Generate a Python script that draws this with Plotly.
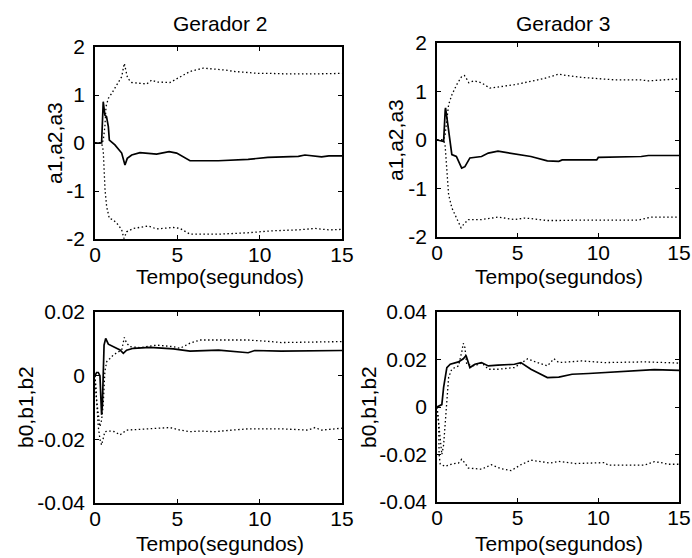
import plotly.graph_objects as go

# ---------------- data ----------------
# Gerador 2, a1,a2,a3
g2a_solid_t = [0, 0.4, 0.5, 0.6, 0.7, 0.81, 0.87, 1.21, 1.62, 1.82, 1.96, 2.23, 2.73, 3.74, 4.5, 4.96, 5.77, 7.49, 9.3, 10.5, 12.35, 12.75, 13.76, 14.2, 15]
g2a_solid_y = [0, 0, 0.86, 0.58, 0.55, 0.34, 0.06, -0.04, -0.21, -0.46, -0.32, -0.25, -0.2, -0.23, -0.18, -0.21, -0.37, -0.37, -0.34, -0.3, -0.28, -0.25, -0.29, -0.27, -0.27]
g2a_up_t = [0, 0.4, 0.5, 0.6, 0.67, 0.81, 1.01, 1.32, 1.62, 1.78, 1.98, 2.23, 3.14, 3.44, 3.74, 4.55, 5.16, 5.77, 6.58, 7.49, 7.89, 8.5, 9.92, 10.7, 11.55, 13.4, 15]
g2a_up_y = [0, 0, 0.05, 0.34, 0.76, 0.93, 1.03, 1.21, 1.38, 1.66, 1.35, 1.26, 1.23, 1.31, 1.27, 1.26, 1.38, 1.49, 1.56, 1.54, 1.52, 1.49, 1.45, 1.45, 1.44, 1.44, 1.45]
g2a_lo_t = [0, 0.4, 0.5, 0.55, 0.61, 0.71, 0.87, 1.11, 1.42, 1.62, 1.76, 1.92, 2.33, 3.24, 3.74, 4.76, 5.16, 5.77, 7.49, 9.3, 10.7, 12.35, 13.36, 14.2, 15]
g2a_lo_y = [0, 0, -0.15, -0.63, -0.98, -1.33, -1.57, -1.6, -1.71, -1.81, -1.99, -1.85, -1.78, -1.73, -1.79, -1.76, -1.78, -1.9, -1.9, -1.87, -1.83, -1.81, -1.78, -1.81, -1.8]

# Gerador 3, a1,a2,a3
g3a_solid_t = [0, 0.41, 0.51, 0.53, 0.67, 0.82, 0.92, 1.2, 1.53, 1.73, 2.04, 2.76, 3.18, 3.78, 5.0, 5.82, 6.84, 7.55, 7.76, 9.9, 10.0, 12.66, 13.1, 15]
g3a_solid_y = [0, -0.03, 0.62, 0.66, 0.32, -0.1, -0.3, -0.34, -0.58, -0.55, -0.37, -0.34, -0.27, -0.23, -0.29, -0.34, -0.43, -0.44, -0.41, -0.41, -0.36, -0.34, -0.32, -0.32]
g3a_up_t = [0, 0.41, 0.5, 0.72, 0.92, 1.22, 1.53, 1.7, 1.82, 1.97, 2.3, 2.76, 3.27, 3.78, 4.8, 5.82, 6.67, 7.55, 8.0, 9.0, 11.0, 12.6, 13.1, 15]
g3a_up_y = [0, 0, 0.1, 0.73, 0.93, 1.14, 1.31, 1.33, 1.27, 1.18, 1.22, 1.18, 1.07, 1.09, 1.14, 1.21, 1.27, 1.36, 1.33, 1.29, 1.24, 1.24, 1.22, 1.26]
g3a_lo_t = [0, 0.41, 0.5, 0.61, 0.72, 0.92, 1.22, 1.49, 1.6, 1.94, 2.76, 3.78, 4.8, 5.4, 5.8, 6.84, 7.55, 9.0, 12.5, 13.27, 15]
g3a_lo_y = [0, 0, -0.1, -0.65, -1.13, -1.4, -1.61, -1.81, -1.76, -1.64, -1.64, -1.59, -1.64, -1.61, -1.62, -1.66, -1.66, -1.65, -1.65, -1.59, -1.59]

# Gerador 2, b0,b1,b2
g2b_solid_t = [0, 0.1, 0.2, 0.3, 0.4, 0.45, 0.55, 0.65, 0.81, 1.11, 1.52, 1.72, 1.92, 2.33, 3.34, 4.76, 5.77, 7.5, 8.3, 9.3, 9.7, 11.3, 15]
g2b_solid_y = [0, 0.001, 0.001, 0, -0.0123, -0.009, 0.0096, 0.0117, 0.0099, 0.0091, 0.0081, 0.007, 0.008, 0.0086, 0.0089, 0.0084, 0.0077, 0.008, 0.0076, 0.0072, 0.0079, 0.0077, 0.0079]
g2b_up_t = [0, 0.1, 0.2, 0.3, 0.4, 0.5, 0.6, 0.71, 0.91, 1.11, 1.42, 1.62, 1.78, 1.92, 2.13, 2.73, 3.74, 4.76, 5.16, 5.77, 6.38, 7.5, 9.3, 10.7, 11.3, 15]
g2b_up_y = [0, -0.008, -0.012, -0.016, -0.014, -0.009, 0.0013, 0.0044, 0.0054, 0.0065, 0.0075, 0.008, 0.012, 0.0102, 0.0091, 0.0088, 0.0096, 0.0091, 0.0086, 0.0102, 0.0112, 0.0112, 0.0112, 0.0107, 0.0104, 0.0107]
g2b_lo_t = [0, 0.1, 0.2, 0.3, 0.4, 0.6, 0.91, 1.2, 1.52, 1.92, 2.73, 3.74, 4.55, 5.16, 5.77, 6.38, 7.29, 8.3, 9.3, 11.3, 12.95, 13.36, 13.76, 15]
g2b_lo_y = [0, -0.01, -0.016, -0.02, -0.0218, -0.0176, -0.0174, -0.0176, -0.0186, -0.0171, -0.0168, -0.0165, -0.0163, -0.0171, -0.0176, -0.0174, -0.0176, -0.0171, -0.0167, -0.0167, -0.0171, -0.0163, -0.0171, -0.0165]

# Gerador 3, b0,b1,b2
g3b_solid_t = [0, 0.2, 0.3, 0.41, 0.51, 0.61, 0.82, 1.12, 1.33, 1.63, 1.8, 2.04, 2.35, 2.76, 3.18, 3.78, 4.8, 5.2, 5.82, 6.22, 6.84, 7.55, 8.37, 9.4, 10.4, 11.4, 12.45, 13.47, 15]
g3b_solid_y = [0, 0.0005, 0.001, 0.0083, 0.0118, 0.0166, 0.018, 0.0187, 0.019, 0.0203, 0.0217, 0.0166, 0.018, 0.0187, 0.0173, 0.0176, 0.018, 0.0187, 0.0159, 0.0145, 0.0124, 0.0126, 0.0138, 0.0141, 0.0145, 0.015, 0.0154, 0.0157, 0.0154]
g3b_up_t = [0, 0.15, 0.3, 0.41, 0.51, 0.61, 0.72, 0.92, 1.33, 1.53, 1.63, 1.73, 1.84, 2.35, 2.76, 3.18, 3.78, 4.8, 5.62, 6.22, 6.84, 7.25, 7.55, 8.98, 10.4, 12.9, 15]
g3b_up_y = [0, -0.01, -0.02, -0.016, -0.006, 0.0055, 0.0125, 0.016, 0.0173, 0.023, 0.0268, 0.025, 0.018, 0.0173, 0.0187, 0.0159, 0.0159, 0.0166, 0.0203, 0.0187, 0.0173, 0.0203, 0.0187, 0.0194, 0.0187, 0.019, 0.0185]
g3b_lo_t = [0, 0.1, 0.13, 0.2, 0.51, 0.92, 1.33, 1.53, 1.73, 1.94, 2.76, 3.37, 3.98, 4.59, 5.2, 5.82, 6.43, 7.0, 7.55, 8.57, 10.4, 10.6, 12.86, 13.47, 13.88, 14.3, 15]
g3b_lo_y = [0, -0.006, -0.02, -0.024, -0.025, -0.024, -0.0236, -0.022, -0.0236, -0.0257, -0.0262, -0.0243, -0.026, -0.0268, -0.0243, -0.0224, -0.023, -0.0236, -0.0229, -0.0238, -0.0234, -0.0245, -0.0245, -0.023, -0.0234, -0.0241, -0.0241]

x_ticks = [0, 5, 10, 15]
x_ticktext = ["0", "5", "10", "15"]
a_ticks = [-2, -1, 0, 1, 2]
a_ticktext = ["-2", "-1", "0", "1", "2"]
b2_ticks = [-0.04, -0.02, 0, 0.02]
b2_ticktext = ["-0.04", "-0.02", "0", "0.02"]
b3_ticks = [-0.04, -0.02, 0, 0.02, 0.04]
b3_ticktext = ["-0.04", "-0.02", "0", "0.02", "0.04"]

titles = ["Gerador 2", "Gerador 3"]
xlabel = "Tempo(segundos)"
ylabels = ["a1,a2,a3", "b0,b1,b2"]

# ---------------- figure ----------------
W, H = 692, 558
FONT = "Liberation Sans, Arial, sans-serif"
FS = 21
DOT = "1.5px,2.5px"

def px_x(a, b):
    return [a / W, b / W]

def px_y(top, bottom):
    return [1 - bottom / H, 1 - top / H]

boxes = {
    1: (95, 342, 47, 239),
    2: (437, 679, 43, 237),
    3: (95, 342, 312, 503),
    4: (437, 679, 312, 502),
}

fig = go.Figure()

panels = [
    (1, [(g2a_solid_t, g2a_solid_y), (g2a_up_t, g2a_up_y), (g2a_lo_t, g2a_lo_y)]),
    (2, [(g3a_solid_t, g3a_solid_y), (g3a_up_t, g3a_up_y), (g3a_lo_t, g3a_lo_y)]),
    (3, [(g2b_solid_t, g2b_solid_y), (g2b_up_t, g2b_up_y), (g2b_lo_t, g2b_lo_y)]),
    (4, [(g3b_solid_t, g3b_solid_y), (g3b_up_t, g3b_up_y), (g3b_lo_t, g3b_lo_y)]),
]

for idx, series in panels:
    xa = "x" if idx == 1 else f"x{idx}"
    ya = "y" if idx == 1 else f"y{idx}"
    for k, (t, y) in enumerate(series):
        if k == 0:
            line = dict(color="black", width=1.7)
        else:
            line = dict(color="black", width=1.3, dash=DOT)
        fig.add_trace(go.Scatter(x=t, y=y, mode="lines", line=line,
                                 xaxis=xa, yaxis=ya, showlegend=False,
                                 hoverinfo="skip"))

yconf = {
    1: ([-2, 2], a_ticks, a_ticktext),
    2: ([-2, 2], a_ticks, a_ticktext),
    3: ([-0.04, 0.02], b2_ticks, b2_ticktext),
    4: ([-0.04, 0.04], b3_ticks, b3_ticktext),
}

layout = dict(
    width=W, height=H,
    margin=dict(l=0, r=0, t=0, b=0, autoexpand=False),
    paper_bgcolor="white", plot_bgcolor="white",
    font=dict(family=FONT, size=FS, color="black"),
    showlegend=False,
)

for idx in range(1, 5):
    l, r, t, b = boxes[idx]
    xk = "xaxis" if idx == 1 else f"xaxis{idx}"
    yk = "yaxis" if idx == 1 else f"yaxis{idx}"
    yr, yt, ytt = yconf[idx]
    ax_common = dict(showline=True, linecolor="black", linewidth=1.5, mirror="ticks",
                     ticks="inside", ticklen=4, tickcolor="black", showgrid=False,
                     zeroline=False, automargin=False, ticklabeloverflow="allow",
                     tickfont=dict(family=FONT, size=FS, color="black"))
    layout[xk] = dict(domain=px_x(l, r), range=[0, 15], tickvals=x_ticks, ticktext=x_ticktext,
                      anchor="y" if idx == 1 else f"y{idx}", ticklabelstandoff=-4, **ax_common)
    layout[yk] = dict(domain=px_y(t, b), range=yr, tickvals=yt, ticktext=ytt,
                      anchor="x" if idx == 1 else f"x{idx}", ticklabelstandoff=4, **ax_common)

fig.update_layout(**layout)

ann = []
# titles
ann.append(dict(text=titles[0], x=220 / W, y=1 - 24 / H))
ann.append(dict(text=titles[1], x=563 / W, y=1 - 23 / H))
# x labels
ann.append(dict(text=xlabel, x=220 / W, y=1 - 276 / H))
ann.append(dict(text=xlabel, x=559 / W, y=1 - 276 / H))
ann.append(dict(text=xlabel, x=220 / W, y=1 - 543 / H))
ann.append(dict(text=xlabel, x=559 / W, y=1 - 543 / H))
# y labels
ann.append(dict(text=ylabels[0], x=55 / W, y=1 - 143 / H, textangle=-90))
ann.append(dict(text=ylabels[0], x=396 / W, y=1 - 140 / H, textangle=-90))
ann.append(dict(text=ylabels[1], x=25 / W, y=1 - 407 / H, textangle=-90))
ann.append(dict(text=ylabels[1], x=368 / W, y=1 - 407 / H, textangle=-90))

for a in ann:
    a.update(xref="paper", yref="paper", showarrow=False, xanchor="center", yanchor="middle",
             font=dict(family=FONT, size=FS, color="black"))
fig.update_layout(annotations=ann)

fig.write_html("out.html")
